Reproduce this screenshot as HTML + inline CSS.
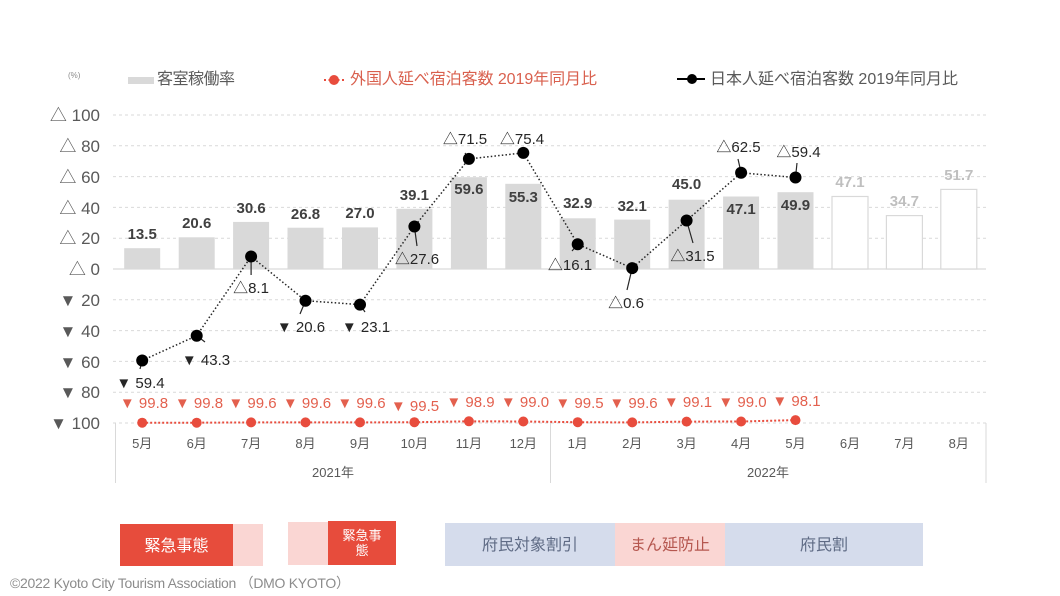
<!DOCTYPE html>
<html><head><meta charset="utf-8"><style>
html,body{margin:0;padding:0;background:#fff;}
svg{display:block;}
text{font-family:"Liberation Sans","Noto Sans CJK JP",sans-serif;}
</style></head><body>
<svg width="1060" height="596" viewBox="0 0 1060 596" xmlns="http://www.w3.org/2000/svg">
<rect width="1060" height="596" fill="#fff"/>
<!-- legend -->
<text x="68" y="78" font-size="8" fill="#8c8c8c">(%)</text>
<rect x="128" y="77" width="26" height="7" fill="#d9d9d9"/>
<text x="157" y="84" font-size="16" fill="#595959" textLength="78">客室稼働率</text>
<line x1="324" y1="80" x2="344" y2="80" stroke="#e84c3d" stroke-width="2" stroke-dasharray="2 2.5"/>
<circle cx="334" cy="80" r="5" fill="#e84c3d"/>
<text x="350" y="84" font-size="16" fill="#d9604e" textLength="247">外国人延べ宿泊客数 2019年同月比</text>
<line x1="677" y1="79" x2="705" y2="79" stroke="#000" stroke-width="2"/>
<circle cx="692" cy="79" r="5" fill="#000"/>
<text x="710" y="84" font-size="16" fill="#595959" textLength="248">日本人延べ宿泊客数 2019年同月比</text>

<!-- gridlines -->
<g stroke="#d9d9d9" stroke-width="1" stroke-dasharray="3 3">
<line x1="113" y1="115" x2="986" y2="115"/>
<line x1="113" y1="145.8" x2="986" y2="145.8"/>
<line x1="113" y1="176.6" x2="986" y2="176.6"/>
<line x1="113" y1="207.4" x2="986" y2="207.4"/>
<line x1="113" y1="238.2" x2="986" y2="238.2"/>
<line x1="113" y1="299.8" x2="986" y2="299.8"/>
<line x1="113" y1="330.6" x2="986" y2="330.6"/>
<line x1="113" y1="361.4" x2="986" y2="361.4"/>
<line x1="113" y1="392.2" x2="986" y2="392.2"/>
<line x1="113" y1="423" x2="986" y2="423"/>
</g>
<line x1="113" y1="269" x2="986" y2="269" stroke="#d9d9d9" stroke-width="1.2"/>

<!-- y labels -->
<g font-size="17" fill="#595959" text-anchor="end">
<text x="100" y="121">△ 100</text>
<text x="100" y="152">△ 80</text>
<text x="100" y="183">△ 60</text>
<text x="100" y="214">△ 40</text>
<text x="100" y="244">△ 20</text>
<text x="100" y="275">△ 0</text>
<text x="100" y="306">▼ 20</text>
<text x="100" y="337">▼ 40</text>
<text x="100" y="368">▼ 60</text>
<text x="100" y="398">▼ 80</text>
<text x="100" y="429">▼ 100</text>
</g>

<!-- bars -->
<g fill="#d9d9d9">
<rect x="124.2" y="248.2" width="36" height="20.8"/>
<rect x="178.7" y="237.3" width="36" height="31.7"/>
<rect x="233.1" y="221.9" width="36" height="47.1"/>
<rect x="287.5" y="227.7" width="36" height="41.3"/>
<rect x="342" y="227.4" width="36" height="41.6"/>
<rect x="396.4" y="208.8" width="36" height="60.2"/>
<rect x="450.9" y="177.2" width="36" height="91.8"/>
<rect x="505.3" y="183.8" width="36" height="85.2"/>
<rect x="559.7" y="218.3" width="36" height="50.7"/>
<rect x="614.2" y="219.6" width="36" height="49.4"/>
<rect x="668.6" y="199.7" width="36" height="69.3"/>
<rect x="723.1" y="196.5" width="36" height="72.5"/>
<rect x="777.5" y="192.2" width="36" height="76.8"/>
</g>
<g fill="#fff" stroke="#d9d9d9" stroke-width="1.2">
<rect x="832" y="196.5" width="36" height="72.5"/>
<rect x="886.4" y="215.6" width="36" height="53.4"/>
<rect x="940.8" y="189.4" width="36" height="79.6"/>
</g>

<!-- bar labels -->
<g font-size="15" font-weight="bold" fill="#404040" text-anchor="middle">
<text x="142.2" y="239">13.5</text>
<text x="196.7" y="228">20.6</text>
<text x="251.1" y="213">30.6</text>
<text x="305.5" y="219">26.8</text>
<text x="360" y="218">27.0</text>
<text x="414.4" y="200">39.1</text>
<text x="468.9" y="194">59.6</text>
<text x="523.3" y="202">55.3</text>
<text x="577.7" y="208">32.9</text>
<text x="632.2" y="211">32.1</text>
<text x="686.6" y="189">45.0</text>
<text x="741.1" y="214">47.1</text>
<text x="795.5" y="210">49.9</text>
</g>
<g font-size="15" font-weight="bold" fill="#bfbfbf" text-anchor="middle">
<text x="850" y="187">47.1</text>
<text x="904.4" y="206">34.7</text>
<text x="958.8" y="180">51.7</text>
</g>

<!-- black series -->
<polyline fill="none" stroke="#262626" stroke-width="1.5" stroke-dasharray="1.5 2.2"
points="142.2,360.5 196.7,335.7 251.1,256.5 305.5,300.7 360,304.6 414.4,226.5 468.9,158.9 523.3,152.9 577.7,244.2 632.2,268.1 686.6,220.5 741.1,172.8 795.5,177.5"/>
<g stroke="#262626" stroke-width="1.2">
<line x1="142.2" y1="360.5" x2="140" y2="369"/>
<line x1="196.7" y1="335.7" x2="205" y2="342"/>
<line x1="251.1" y1="256.5" x2="251.1" y2="275"/>
<line x1="305.5" y1="300.7" x2="300" y2="314"/>
<line x1="360" y1="304.6" x2="365" y2="312"/>
<line x1="414.4" y1="226.5" x2="417" y2="246"/>
<line x1="468.9" y1="158.9" x2="465" y2="153"/>
<line x1="577.7" y1="244.2" x2="572" y2="251"/>
<line x1="632.2" y1="268.1" x2="627" y2="290"/>
<line x1="686.6" y1="220.5" x2="693" y2="243"/>
<line x1="741.1" y1="172.8" x2="738" y2="159"/>
<line x1="795.5" y1="177.5" x2="797" y2="163"/>
</g>
<g fill="#000">
<circle cx="142.2" cy="360.5" r="6"/>
<circle cx="196.7" cy="335.7" r="6"/>
<circle cx="251.1" cy="256.5" r="6"/>
<circle cx="305.5" cy="300.7" r="6"/>
<circle cx="360" cy="304.6" r="6"/>
<circle cx="414.4" cy="226.5" r="6"/>
<circle cx="468.9" cy="158.9" r="6"/>
<circle cx="523.3" cy="152.9" r="6"/>
<circle cx="577.7" cy="244.2" r="6"/>
<circle cx="632.2" cy="268.1" r="6"/>
<circle cx="686.6" cy="220.5" r="6"/>
<circle cx="741.1" cy="172.8" r="6"/>
<circle cx="795.5" cy="177.5" r="6"/>
</g>
<g font-size="15" fill="#262626" text-anchor="middle">
<text x="140.5" y="388">▼ 59.4</text>
<text x="206" y="365">▼ 43.3</text>
<text x="251" y="293">△8.1</text>
<text x="301" y="332">▼ 20.6</text>
<text x="366" y="332">▼ 23.1</text>
<text x="417" y="264">△27.6</text>
<text x="465" y="144">△71.5</text>
<text x="522" y="144">△75.4</text>
<text x="570" y="270">△16.1</text>
<text x="626" y="308">△0.6</text>
<text x="692.5" y="261">△31.5</text>
<text x="738.5" y="152">△62.5</text>
<text x="798.5" y="157">△59.4</text>
</g>

<!-- red series -->
<polyline fill="none" stroke="#e84c3d" stroke-width="2" stroke-dasharray="2 2"
points="142.2,422.7 196.7,422.7 251.1,422.4 305.5,422.4 360,422.4 414.4,422.2 468.9,421.3 523.3,421.5 577.7,422.2 632.2,422.4 686.6,421.6 741.1,421.5 795.5,420.1"/>
<g fill="#e84c3d">
<circle cx="142.2" cy="422.7" r="5"/>
<circle cx="196.7" cy="422.7" r="5"/>
<circle cx="251.1" cy="422.4" r="5"/>
<circle cx="305.5" cy="422.4" r="5"/>
<circle cx="360" cy="422.4" r="5"/>
<circle cx="414.4" cy="422.2" r="5"/>
<circle cx="468.9" cy="421.3" r="5"/>
<circle cx="523.3" cy="421.5" r="5"/>
<circle cx="577.7" cy="422.2" r="5"/>
<circle cx="632.2" cy="422.4" r="5"/>
<circle cx="686.6" cy="421.6" r="5"/>
<circle cx="741.1" cy="421.5" r="5"/>
<circle cx="795.5" cy="420.1" r="5"/>
</g>
<g font-size="15" fill="#e3604e" text-anchor="middle">
<text x="144" y="408">▼ 99.8</text>
<text x="199" y="408">▼ 99.8</text>
<text x="252.5" y="408">▼ 99.6</text>
<text x="307" y="408">▼ 99.6</text>
<text x="361.5" y="408">▼ 99.6</text>
<text x="415" y="411">▼ 99.5</text>
<text x="470.5" y="407">▼ 98.9</text>
<text x="525" y="407">▼ 99.0</text>
<text x="579.5" y="408">▼ 99.5</text>
<text x="633.5" y="408">▼ 99.6</text>
<text x="688" y="407">▼ 99.1</text>
<text x="742.5" y="407">▼ 99.0</text>
<text x="796.5" y="406">▼ 98.1</text>
</g>

<!-- category axis -->
<g stroke="#d9d9d9" stroke-width="1">
<line x1="115.5" y1="423" x2="115.5" y2="483"/>
<line x1="550.5" y1="423" x2="550.5" y2="483"/>
<line x1="986" y1="423" x2="986" y2="483"/>
</g>
<g font-size="13" fill="#595959" text-anchor="middle">
<text x="142.2" y="448">5月</text>
<text x="196.7" y="448">6月</text>
<text x="251.1" y="448">7月</text>
<text x="305.5" y="448">8月</text>
<text x="360" y="448">9月</text>
<text x="414.4" y="448">10月</text>
<text x="468.9" y="448">11月</text>
<text x="523.3" y="448">12月</text>
<text x="577.7" y="448">1月</text>
<text x="632.2" y="448">2月</text>
<text x="686.6" y="448">3月</text>
<text x="741.1" y="448">4月</text>
<text x="795.5" y="448">5月</text>
<text x="850" y="448">6月</text>
<text x="904.4" y="448">7月</text>
<text x="958.8" y="448">8月</text>
<text x="333" y="477">2021年</text>
<text x="768" y="477">2022年</text>
</g>

<!-- bottom boxes -->
<rect x="120" y="524" width="113" height="42" fill="#e74c3c"/>
<rect x="233" y="524" width="30" height="42" fill="#fad6d3"/>
<text x="176.5" y="551" font-size="16" fill="#fff" text-anchor="middle">緊急事態</text>
<rect x="288" y="522" width="40" height="43" fill="#fad6d3"/>
<rect x="328" y="521" width="68" height="44" fill="#e74c3c"/>
<text x="362" y="540" font-size="13" fill="#fff" text-anchor="middle">緊急事</text>
<text x="362" y="555" font-size="13" fill="#fff" text-anchor="middle">態</text>
<rect x="445" y="523" width="170" height="43" fill="#d5dcec"/>
<rect x="615" y="523" width="110" height="43" fill="#fad6d3"/>
<rect x="725" y="523" width="198" height="43" fill="#d5dcec"/>
<text x="530" y="550" font-size="16" fill="#5f6b85" text-anchor="middle">府民対象割引</text>
<text x="670" y="550" font-size="16" fill="#b5574f" text-anchor="middle">まん延防止</text>
<text x="824" y="550" font-size="16" fill="#5f6b85" text-anchor="middle">府民割</text>

<text x="10" y="588" font-size="14" fill="#8c8c8c" textLength="340">©2022 Kyoto City Tourism Association （DMO KYOTO）</text>
</svg>
</body></html>
